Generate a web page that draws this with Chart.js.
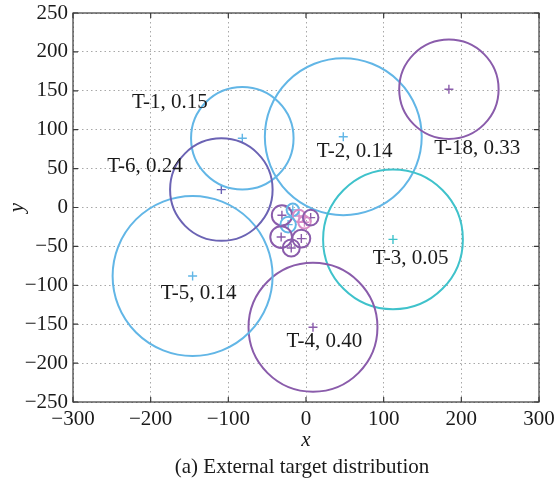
<!DOCTYPE html>
<html>
<head>
<meta charset="utf-8">
<script src="https://cdn.jsdelivr.net/npm/chart.js@4/dist/chart.umd.min.js"></script>
<style>
  html, body { margin: 0; padding: 0; background: #ffffff; }
  #wrap { width: 554px; height: 481px; }
</style>
</head>
<body>
<div id="wrap"><canvas id="chart" width="554" height="481"></canvas></div>
<script>
// External targets: centre, coverage radius and weight
const targetNames  = ['T-1', 'T-2', 'T-3', 'T-4', 'T-5', 'T-6', 'T-18'];
const targetX      = [-82, 48, 112, 9, -146, -109, 184];
const targetY      = [89, 91, -41, -154, -88, 23, 152];
const targetRadius = [66, 101, 90, 83, 103, 66, 64];
const targetWeight = [0.15, 0.14, 0.05, 0.40, 0.14, 0.24, 0.33];
const targetGroup  = ['blue', 'blue', 'teal', 'purple', 'blue', 'slate', 'purple'];
// anchor (left edge, middle) of each target's annotation
const labelX = [-224, 14, 86, -25, -187, -256, 165];
const labelY = [135, 72, -65, -172, -110, 53, 76];

// Small targets gathered near the origin
const clusterX      = [-31, -17, -9, -2, 6, -23, -32, -6, -19];
const clusterY      = [-10, -3, -11, -19, -13, -22, -38, -40, -52];
const clusterRadius = [13, 8, 8, 8, 10, 10, 14, 11.5, 11];
const clusterGroup  = ['purple', 'blue', 'pink', 'pink', 'purple', 'blue', 'purple', 'purple', 'purple'];

// Axis ticks
const xTicks = [-300, -200, -100, 0, 100, 200, 300];
const yTicks = [-250, -200, -150, -100, -50, 0, 50, 100, 150, 200, 250];

const palette = {
  blue:   '#62b6e6',
  teal:   '#3fc2cb',
  purple: '#8a5cab',
  slate:  '#6b63b4',
  pink:   '#d98cc6'
};

const FONT = "'Liberation Serif', 'Times New Roman', serif";
const FS = 21;

function pxRadius(ctx) {
  const sx = ctx.chart.scales.x;
  const d = ctx.raw;
  if (!sx || !d) return 0;
  return Math.abs(sx.getPixelForValue(d.x + d.rad) - sx.getPixelForValue(d.x));
}

const circles = [];
const centres = [];
targetNames.forEach((n, i) => {
  circles.push({ x: targetX[i], y: targetY[i], rad: targetRadius[i], c: palette[targetGroup[i]] });
});
clusterX.forEach((v, i) => {
  circles.push({ x: clusterX[i], y: clusterY[i], rad: clusterRadius[i], c: palette[clusterGroup[i]] });
});
circles.forEach(p => centres.push({ x: p.x, y: p.y, c: p.c }));

const minusSign = v => String(v).replace('-', '\u2212');

const frame = {
  id: 'frame',
  afterDatasetsDraw(chart) {
    const { ctx, chartArea: a, scales: { x, y } } = chart;
    ctx.save();
    // target annotations
    ctx.font = FS + 'px ' + FONT;
    ctx.fillStyle = '#1a1a1a';
    ctx.textAlign = 'left';
    ctx.textBaseline = 'middle';
    targetNames.forEach((n, i) => {
      ctx.fillText(n + ', ' + targetWeight[i].toFixed(2),
        x.getPixelForValue(labelX[i]), y.getPixelForValue(labelY[i]));
    });
    // box
    ctx.strokeStyle = '#3a3a3a';
    ctx.lineWidth = 1.2;
    ctx.strokeRect(a.left, a.top, a.right - a.left, a.bottom - a.top);
    // inward ticks
    const tl = 5;
    ctx.beginPath();
    xTicks.forEach(v => {
      const px = x.getPixelForValue(v);
      ctx.moveTo(px, a.bottom); ctx.lineTo(px, a.bottom - tl);
      ctx.moveTo(px, a.top); ctx.lineTo(px, a.top + tl);
    });
    yTicks.forEach(v => {
      const py = y.getPixelForValue(v);
      ctx.moveTo(a.left, py); ctx.lineTo(a.left + tl, py);
      ctx.moveTo(a.right, py); ctx.lineTo(a.right - tl, py);
    });
    ctx.stroke();
    // axis titles and caption
    ctx.fillStyle = '#1a1a1a';
    ctx.textAlign = 'center';
    ctx.font = 'italic ' + FS + 'px ' + FONT;
    ctx.fillText('x', (a.left + a.right) / 2, 440);
    ctx.save();
    ctx.translate(17, (a.top + a.bottom) / 2);
    ctx.rotate(-Math.PI / 2);
    ctx.fillText('y', 0, 0);
    ctx.restore();
    ctx.font = FS + 'px ' + FONT;
    ctx.fillText('(a) External target distribution', 302, 467);
    ctx.restore();
  }
};

new Chart(document.getElementById('chart'), {
  type: 'scatter',
  data: {
    datasets: [
      {
        label: 'coverage',
        data: circles,
        pointStyle: 'circle',
        radius: pxRadius,
        hoverRadius: pxRadius,
        backgroundColor: 'rgba(0,0,0,0)',
        borderColor: ctx => ctx.raw ? ctx.raw.c : '#000',
        borderWidth: 2,
        showLine: false
      },
      {
        label: 'centre',
        data: centres,
        pointStyle: 'cross',
        radius: 4.5,
        hoverRadius: 4.5,
        borderColor: ctx => ctx.raw ? ctx.raw.c : '#000',
        borderWidth: 1.4,
        showLine: false
      }
    ]
  },
  options: {
    responsive: false,
    animation: false,
    events: [],
    layout: { padding: { top: 13, right: 15, left: 0, bottom: 0 } },
    plugins: { legend: { display: false }, tooltip: { enabled: false } },
    scales: {
      x: {
        type: 'linear',
        min: -300, max: 300,
        afterFit: s => { s.height = 79; s.paddingLeft = 0; s.paddingRight = 0; },
        afterBuildTicks: s => { s.ticks = xTicks.map(v => ({ value: v })); },
        ticks: {
          padding: 5,
          color: '#1a1a1a',
          font: { family: FONT, size: FS },
          maxRotation: 0,
          callback: v => minusSign(v)
        },
        grid: { drawTicks: false, color: '#a8a8a8', lineWidth: 1 },
        border: { display: false, dash: [1.5, 3] }
      },
      y: {
        type: 'linear',
        min: -250, max: 250,
        afterFit: s => { s.width = 73; s.paddingTop = 0; s.paddingBottom = 0; },
        afterBuildTicks: s => { s.ticks = yTicks.map(v => ({ value: v })); },
        ticks: {
          padding: 5,
          color: '#1a1a1a',
          font: { family: FONT, size: FS },
          callback: v => minusSign(v)
        },
        grid: { drawTicks: false, color: '#a8a8a8', lineWidth: 1 },
        border: { display: false, dash: [1.5, 3] }
      }
    }
  },
  plugins: [frame]
});
</script>
</body>
</html>
